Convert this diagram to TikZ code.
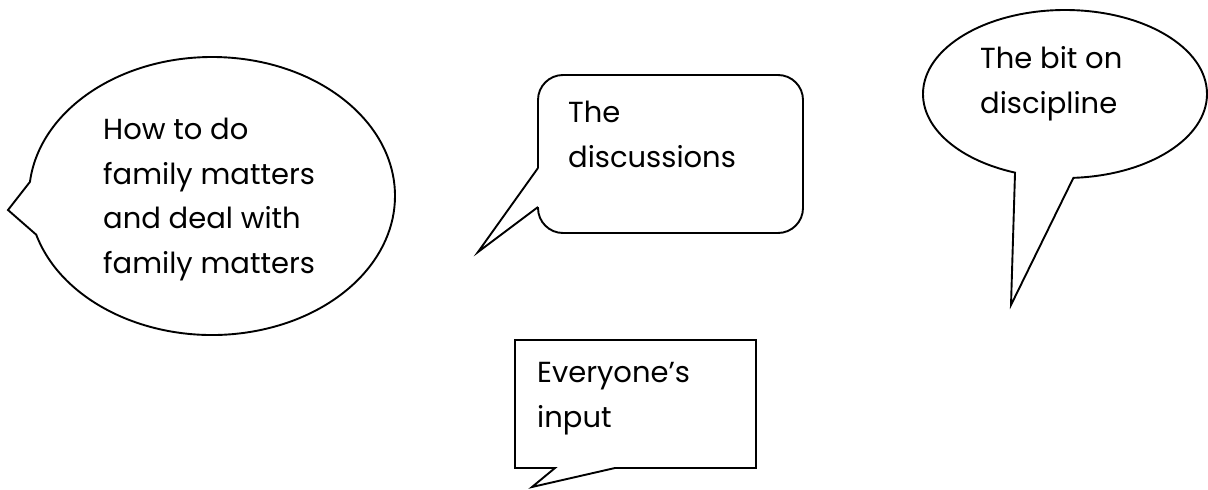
\documentclass[tikz,border=0pt]{standalone}
\usepackage{fontspec}
\setmainfont{Poppins}
\usetikzlibrary{shapes.callouts}

\tikzset{
  bubble/.style={draw, line width=1.9pt},
  words/.style={anchor=base west, align=left, inner sep=0pt,
    font=\fontsize{29}{44.5}\selectfont}
}

\begin{document}
\begin{tikzpicture}[x=1pt, y=-1pt]
	\useasboundingbox (0,0) rectangle (1208,490);

	\coordinate (family tip) at (8,210);
	\coordinate (discipline tip) at (1011,305);

	\node[bubble, ellipse callout, minimum width=366pt, minimum height=278pt,
	      callout absolute pointer={(family tip)}, callout pointer arc=22] (family) at (212,196) {};
	\node[bubble, ellipse callout, minimum width=284pt, minimum height=168pt,
	      callout absolute pointer={(discipline tip)}, callout pointer arc=24] (discipline) at (1065,94) {};

	% rounded box with its pointer
	\coordinate (d1) at (538,168);
	\coordinate (d2) at (538,207);
	\coordinate (discussions tip) at (478,252);
	\draw[bubble, rounded corners=25pt] (d2) -- (538,233) -- (803,233) -- (803,75) -- (538,75) -- (d1);
	\draw[bubble] (d1) -- (discussions tip) -- (d2);

	% square box
	\coordinate (e1) at (555,468);
	\coordinate (e2) at (615,468);
	\coordinate (input tip) at (532,487);
	\draw[bubble, line join=miter] (e1) -- (515,468) -- (515,340) -- (756,340) -- (756,468) -- (e2) -- (input tip) -- cycle;

	% base anchor sits on the last line
	\node[words] (family text) at (103,273) {How to do\\family matters\\and deal with\\family matters};
	\node[words] (discussions text) at (568,167) {The\\discussions};
	\node[words] (discipline text) at (980,113) {The bit on\\discipline};
	\node[words] (input text) at (537,427) {Everyone’s\\input};
\end{tikzpicture}
\end{document}
